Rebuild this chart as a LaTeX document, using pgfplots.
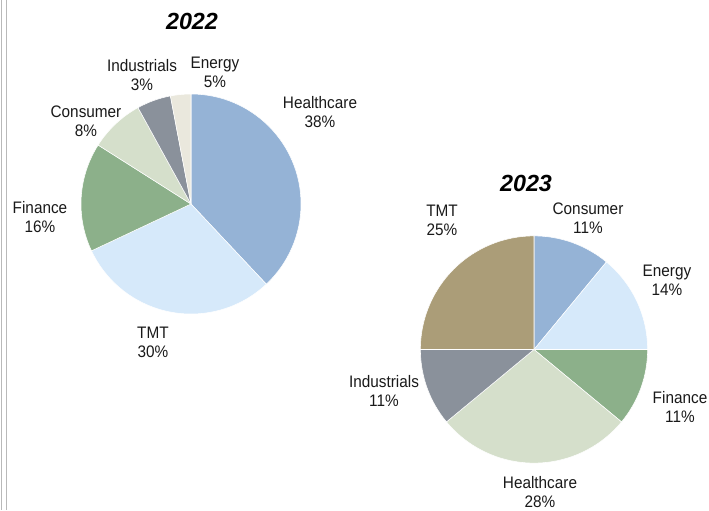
\documentclass[border=0pt]{standalone}
\usepackage{pgfplots}
\pgfplotsset{compat=1.18}
\usepackage{pgfplotstable}
\usepackage{fontspec}
\setmainfont{Liberation Sans}[FakeStretch=0.92]
\newfontfamily\titlefont{Liberation Sans}
\definecolor{cBlue}{RGB}{149,179,214}
\definecolor{cLBlue}{RGB}{214,233,250}
\definecolor{cGreen}{RGB}{140,176,138}
\definecolor{cSage}{RGB}{213,223,203}
\definecolor{cGray}{RGB}{138,145,155}
\definecolor{cCream}{RGB}{234,232,221}
\definecolor{cTan}{RGB}{171,157,120}
\definecolor{cEdge}{RGB}{185,185,185}

\pgfplotstableread{
name value color
Healthcare 38 cBlue
TMT 30 cLBlue
Finance 16 cGreen
Consumer 8 cSage
Industrials 5 cGray
Energy 3 cCream
}\tblA

\pgfplotstableread{
name value color
Consumer 11 cBlue
Energy 14 cLBlue
Finance 11 cGreen
Healthcare 28 cSage
Industrials 11 cGray
TMT 25 cTan
}\tblB

% #1 table, #2 cx, #3 cy, #4 radius
\newcommand\drawpie[4]{%
  \def\acc{90}%
  \pgfplotsforeachungrouped \i in {0,...,5}{%
    \pgfplotstablegetelem{\i}{value}\of#1\let\v\pgfplotsretval
    \pgfplotstablegetelem{\i}{color}\of#1\let\c\pgfplotsretval
    \pgfmathsetmacro\e{\acc-3.6*\v}%
    \edef\temp{\noexpand\fill[\c, draw=white, line width=0.4pt] (axis cs:#2,#3) -- ++(\acc:#4) arc[start angle=\acc, end angle=\e, radius=#4] -- cycle;}%
    \temp
    \let\acc\e
  }%
}

\tikzset{
  lbl/.style={font=\fontsize{12.5}{14.2}\selectfont, align=center, text=black!90, inner sep=0pt},
  ttl/.style={font=\titlefont\fontsize{17.5}{19}\selectfont\bfseries\itshape, text=black, inner sep=0pt},
}

\begin{document}
\begin{tikzpicture}
\useasboundingbox (0,0) rectangle (531.75pt,382.5pt);
\begin{axis}[
  scale only axis, width=531.75pt, height=382.5pt,
  xmin=0, xmax=709, ymin=0, ymax=510, y dir=reverse,
  hide axis,
]
\draw[cEdge, line width=1.1pt] (axis cs:1.5,0) -- (axis cs:1.5,510);
\draw[cEdge, line width=1.1pt] (axis cs:6.5,0) -- (axis cs:6.5,510);

\drawpie{\tblA}{191}{204}{82.5pt}
\drawpie{\tblB}{534}{349.5}{85.2pt}

\node[ttl] at (axis cs:192,21) {2022};
\node[lbl] at (axis cs:142,75) {Industrials\\3\%};
\node[lbl] at (axis cs:215,72) {Energy\\5\%};
\node[lbl] at (axis cs:320,112) {Healthcare\\38\%};
\node[lbl] at (axis cs:86,121) {Consumer\\8\%};
\node[lbl] at (axis cs:40,217) {Finance\\16\%};
\node[lbl] at (axis cs:153,342) {TMT\\30\%};

\node[ttl] at (axis cs:526,183) {2023};
\node[lbl] at (axis cs:442,220) {TMT\\25\%};
\node[lbl] at (axis cs:588,218) {Consumer\\11\%};
\node[lbl] at (axis cs:667,280) {Energy\\14\%};
\node[lbl] at (axis cs:680,407) {Finance\\11\%};
\node[lbl] at (axis cs:384,391) {Industrials\\11\%};
\node[lbl] at (axis cs:540,492) {Healthcare\\28\%};
\end{axis}
\end{tikzpicture}
\end{document}
